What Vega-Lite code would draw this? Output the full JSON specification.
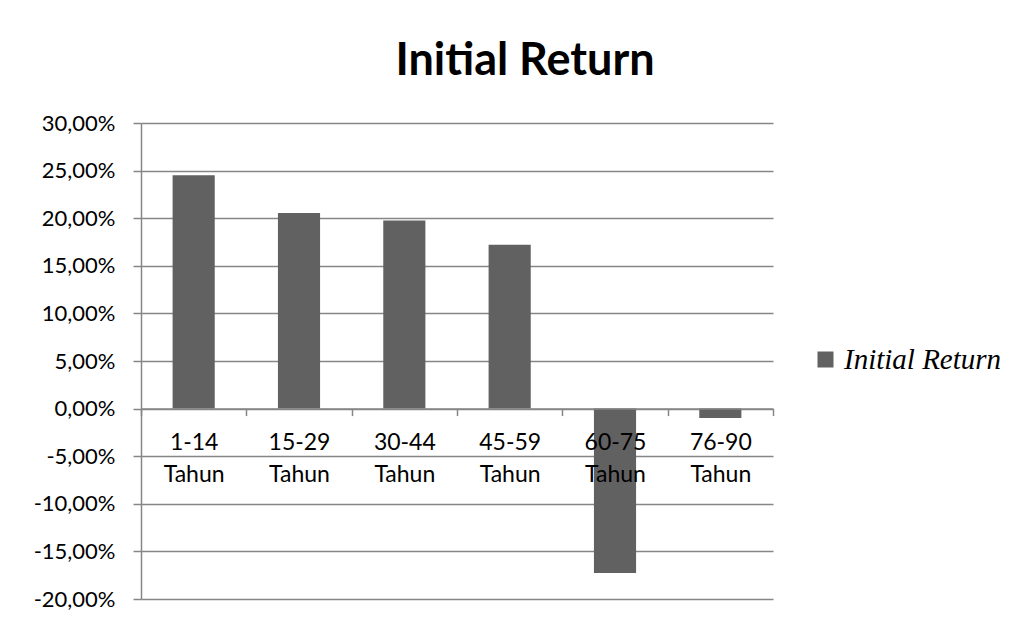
{
  "$schema": "https://vega.github.io/schema/vega-lite/v6.json",
  "autosize": "none",
  "width": 632,
  "height": 476,
  "padding": {"left": 141, "top": 123, "right": 255, "bottom": 22},
  "background": "white",
  "title": {
    "text": "Initial Return",
    "font": "Lato",
    "fontSize": 45,
    "fontWeight": "bold",
    "color": "black",
    "anchor": "middle",
    "dx": 68,
    "offset": 28
  },
  "config": {
    "view": {"stroke": null},
    "font": "Lato"
  },
  "data": {
    "values": [
      {"group": "1-14 Tahun", "series": "Initial Return", "value": 0.245},
      {"group": "15-29 Tahun", "series": "Initial Return", "value": 0.2055},
      {"group": "30-44 Tahun", "series": "Initial Return", "value": 0.1975},
      {"group": "45-59 Tahun", "series": "Initial Return", "value": 0.172},
      {"group": "60-75 Tahun", "series": "Initial Return", "value": -0.1726},
      {"group": "76-90 Tahun", "series": "Initial Return", "value": -0.0098}
    ]
  },
  "mark": {"type": "bar", "color": "#616161", "width": {"band": 0.4}},
  "encoding": {
    "x": {
      "field": "group",
      "type": "nominal",
      "sort": null,
      "scale": {"paddingInner": 0, "paddingOuter": 0},
      "axis": {
        "title": null,
        "orient": "bottom",
        "offset": -190.4,
        "zindex": 1,
        "labelAngle": 0,
        "labelExpr": "split(datum.label, ' ')",
        "labelFont": "Lato",
        "labelFontSize": 23,
        "labelColor": "black",
        "labelLineHeight": 32,
        "labelPadding": 16,
        "tickBand": "extent",
        "tickSize": 7,
        "tickColor": "#868686",
        "tickWidth": 1.5,
        "domainColor": "#868686",
        "domainWidth": 1.5,
        "grid": false
      }
    },
    "y": {
      "field": "value",
      "type": "quantitative",
      "scale": {"domain": [-0.2, 0.3], "nice": false},
      "axis": {
        "title": null,
        "values": [-0.2, -0.15, -0.1, -0.05, 0, 0.05, 0.1, 0.15, 0.2, 0.25, 0.3],
        "labelExpr": "replace(replace(format(datum.value, '.2%'), '.', ','), '\u2212', '-')",
        "labelFont": "Lato",
        "labelFontSize": 22,
        "labelColor": "black",
        "labelPadding": 18,
        "tickSize": 8,
        "tickColor": "#868686",
        "tickWidth": 1.5,
        "domainColor": "#868686",
        "domainWidth": 1.5,
        "grid": true,
        "gridColor": "#868686",
        "gridWidth": 1.5
      }
    },
    "fill": {
      "field": "series",
      "type": "nominal",
      "scale": {"range": ["#616161"]},
      "legend": {
        "title": null,
        "orient": "none",
        "legendX": 670,
        "legendY": 222,
        "symbolType": "square",
        "symbolSize": 256,
        "symbolStrokeWidth": 0,
        "labelFont": "Liberation Serif",
        "labelFontStyle": "italic",
        "labelFontSize": 29,
        "labelLimit": 400,
        "labelColor": "black",
        "labelOffset": 4
      }
    }
  }
}
